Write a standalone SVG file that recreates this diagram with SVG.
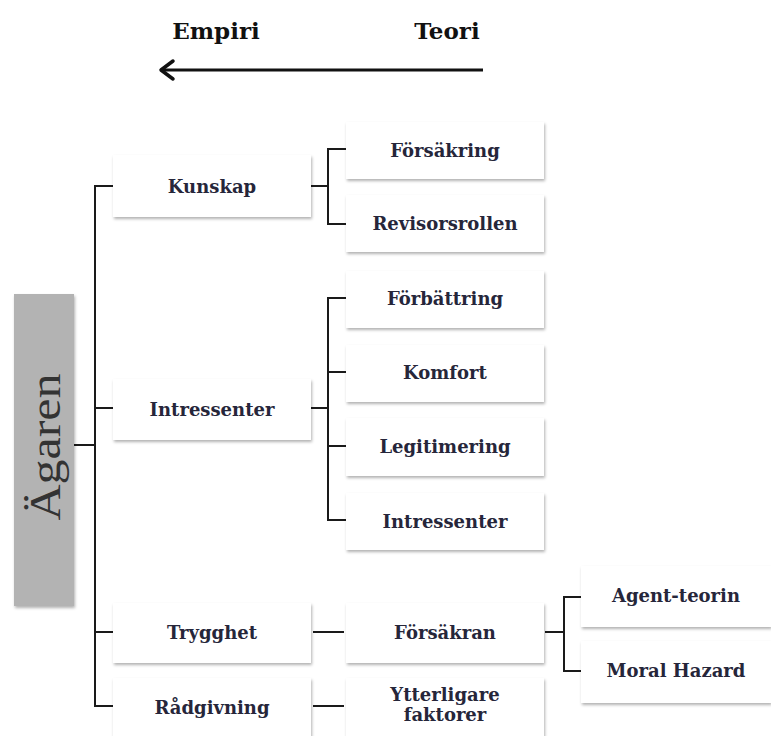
<svg xmlns="http://www.w3.org/2000/svg" width="771" height="736" viewBox="0 0 771 736">
<defs>
<style>
.box{fill:#ffffff;filter:url(#sh);}
.lbl{font-family:"DejaVu Serif","Liberation Serif",serif;font-size:18px;font-weight:bold;fill:#26263a;text-anchor:middle;dominant-baseline:central;}
.hdr{font-family:"DejaVu Serif","Liberation Serif",serif;font-size:23px;font-weight:bold;fill:#111;text-anchor:middle;}
.ln{stroke:#1a1a1a;stroke-width:2;fill:none;}
</style>
<filter id="sh" x="-10%" y="-20%" width="125%" height="150%">
<feDropShadow dx="1" dy="2" stdDeviation="1.5" flood-color="#000" flood-opacity="0.3"/>
</filter>
</defs>
<rect width="771" height="736" fill="#ffffff"/>

<g id="header">
<text class="hdr" x="216" y="39">Empiri</text>
<text class="hdr" x="447" y="39">Teori</text>
<line x1="483" y1="70" x2="162" y2="70" stroke="#111" stroke-width="3"/>
<path d="M173,61 L161,70 L173,79" fill="none" stroke="#111" stroke-width="3.5" stroke-linecap="round" stroke-linejoin="round"/>
</g>

<g id="connectors">
<line class="ln" x1="74" y1="445" x2="95" y2="445"/>
<polyline class="ln" points="113,186 95,186 95,706 113,706"/>
<line class="ln" x1="95" y1="408" x2="113" y2="408"/>
<line class="ln" x1="95" y1="632" x2="113" y2="632"/>
<line class="ln" x1="311" y1="186" x2="328" y2="186"/>
<polyline class="ln" points="346,149 328,149 328,224 346,224"/>
<line class="ln" x1="311" y1="408" x2="328" y2="408"/>
<polyline class="ln" points="346,298 328,298 328,520 346,520"/>
<line class="ln" x1="328" y1="372" x2="346" y2="372"/>
<line class="ln" x1="328" y1="446" x2="346" y2="446"/>
<line class="ln" x1="313" y1="632" x2="344" y2="632"/>
<line class="ln" x1="313" y1="706" x2="344" y2="706"/>
<line class="ln" x1="545" y1="632" x2="564" y2="632"/>
<polyline class="ln" points="581,597 564,597 564,671 581,671"/>
</g>

<g id="agaren">
<rect x="14" y="294" width="60" height="312" fill="#b3b3b3" filter="url(#sh)"/>
<text transform="translate(45,447) rotate(-90)" font-family="Liberation Serif,serif" font-size="44" fill="#333" text-anchor="middle" dominant-baseline="central" textLength="147" lengthAdjust="spacingAndGlyphs">Ägaren</text>
</g>

<g id="kunskap"><rect class="box" x="113" y="155" width="198" height="62"/><text class="lbl" x="212" y="186">Kunskap</text></g>
<g id="forsakring"><rect class="box" x="346" y="122" width="198" height="57"/><text class="lbl" x="445" y="150">Försäkring</text></g>
<g id="revisorsrollen"><rect class="box" x="346" y="195" width="198" height="57"/><text class="lbl" x="445" y="223">Revisorsrollen</text></g>

<g id="intressenter1"><rect class="box" x="113" y="379" width="198" height="61"/><text class="lbl" x="212" y="409">Intressenter</text></g>
<g id="forbattring"><rect class="box" x="346" y="271" width="198" height="57"/><text class="lbl" x="445" y="298">Förbättring</text></g>
<g id="komfort"><rect class="box" x="346" y="345" width="198" height="57"/><text class="lbl" x="445" y="372">Komfort</text></g>
<g id="legitimering"><rect class="box" x="346" y="418" width="198" height="58"/><text class="lbl" x="445" y="446">Legitimering</text></g>
<g id="intressenter2"><rect class="box" x="346" y="493" width="198" height="57"/><text class="lbl" x="445" y="521">Intressenter</text></g>

<g id="trygghet"><rect class="box" x="113" y="603" width="198" height="60"/><text class="lbl" x="212" y="632">Trygghet</text></g>
<g id="forsakran"><rect class="box" x="346" y="603" width="198" height="60"/><text class="lbl" x="445" y="632">Försäkran</text></g>
<g id="agentteorin"><rect class="box" x="581" y="566" width="190" height="61"/><text class="lbl" x="676" y="595">Agent-teorin</text></g>
<g id="moralhazard"><rect class="box" x="581" y="641" width="190" height="62"/><text class="lbl" x="676" y="670">Moral Hazard</text></g>

<g id="radgivning"><rect class="box" x="113" y="678" width="198" height="70"/><text class="lbl" x="212" y="707">Rådgivning</text></g>
<g id="ytterligare"><rect class="box" x="346" y="678" width="198" height="70"/><text class="lbl" x="445" y="694">Ytterligare</text><text class="lbl" x="445" y="714">faktorer</text></g>
</svg>
